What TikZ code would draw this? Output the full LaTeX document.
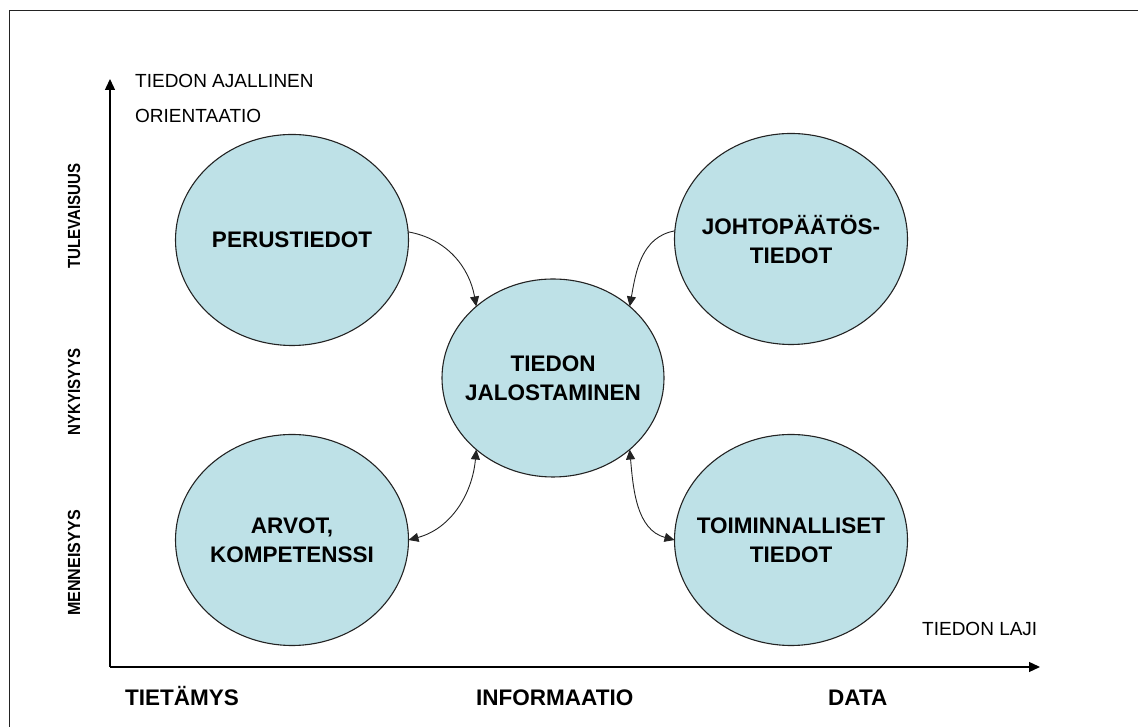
\documentclass[tikz,border=0pt]{standalone}
\usepackage{fontspec}
\setmainfont{Liberation Sans}
\usetikzlibrary{shapes.geometric,arrows.meta}
\definecolor{bubblefill}{RGB}{190,225,231}
\definecolor{edge}{RGB}{35,35,35}
\begin{document}
\begin{tikzpicture}[x=1pt,y=1pt,
  bubble/.style={ellipse, draw=edge, line width=1.1pt, fill=bubblefill,
    inner sep=0pt, outer sep=0pt},
  corner/.style={bubble, minimum width=233pt, minimum height=211pt},
  hub/.style={bubble, minimum width=222pt, minimum height=198pt},
  bubbletext/.style={align=center, inner sep=0pt,
    font=\bfseries\fontsize{22.5}{29}\selectfont},
  axislabel/.style={inner sep=0pt, anchor=base west,
    font=\bfseries\fontsize{22.5}{27}\selectfont},
  smalllabel/.style={inner sep=0pt, anchor=base west,
    font=\fontsize{19}{23}\selectfont},
  timelabel/.style={inner sep=0pt, rotate=90,
    font=\bfseries\fontsize{17.5}{21}\selectfont},
  axis/.style={line width=1.3pt, -{Triangle[length=11pt,width=10pt]}},
  link/.style={line width=0.9pt, draw=edge, {Triangle[length=10pt,width=9pt]}-{Triangle[length=10pt,width=9pt]}},
  flow/.style={line width=0.9pt, draw=edge, -{Triangle[length=10pt,width=9pt]}}
]
\useasboundingbox (0,0) rectangle (1138,727);

% outer frame (runs off the right and bottom edges)
\draw[line width=1pt, edge] (9,-5) -- (9,716) -- (1145,716);

% axes
\coordinate (origin) at (110,60);
\coordinate (ytip) at (110,648);
\coordinate (xtip) at (1040,60);
\draw[axis] (origin) -- (ytip);
\draw[axis] (origin) -- (xtip);

% axis captions
\node[smalllabel] (ytitle1) at (135,639) {TIEDON AJALLINEN};
\node[smalllabel] (ytitle2) at (135,604) {ORIENTAATIO};
\node[smalllabel] (xtitle) at (922,91) {TIEDON LAJI};

% time periods on the vertical axis (slightly condensed bold)
\node[timelabel] (future)  at (74,511) {\scalebox{0.86}[1]{TULEVAISUUS}};
\node[timelabel] (present) at (74,335) {\scalebox{0.86}[1]{NYKYISYYS}};
\node[timelabel] (past)    at (74,164) {\scalebox{0.92}[1]{MENNEISYYS}};

% knowledge types on the horizontal axis
\node[axislabel] (tietamys) at (125,21) {TIETÄMYS};
\node[axislabel] (informaatio) at (476,21) {INFORMAATIO};
\node[axislabel] (data) at (828,21) {DATA};

% bubbles
\node[corner] (perus) at (292,487) {};
\node[corner] (johto) at (791,488) {};
\node[corner] (arvot) at (292,187) {};
\node[corner] (toim)  at (791,187) {};
\node[hub]    (jalo)  at (553,349) {};

\node[bubbletext] (perus-t) at (perus) {PERUSTIEDOT};
\node[bubbletext] (johto-t) at (791,487) {JOHTOPÄÄTÖS-\\TIEDOT};
\node[bubbletext] (arvot-t) at (292,187) {ARVOT,\\KOMPETENSSI};
\node[bubbletext] (toim-t)  at (791,187) {TOIMINNALLISET\\TIEDOT};
\node[bubbletext] (jalo-t)  at (553,349) {TIEDON\\JALOSTAMINEN};

% connectors
\draw[flow] (perus.4) to[out=-10, in=100] (jalo.137);
\draw[flow] (johto.176) to[out=190, in=80] (jalo.43);
\draw[link] (jalo.223) to[out=265, in=15] (arvot.east);
\draw[link] (jalo.317) to[out=275, in=165] (toim.west);
\end{tikzpicture}
\end{document}
